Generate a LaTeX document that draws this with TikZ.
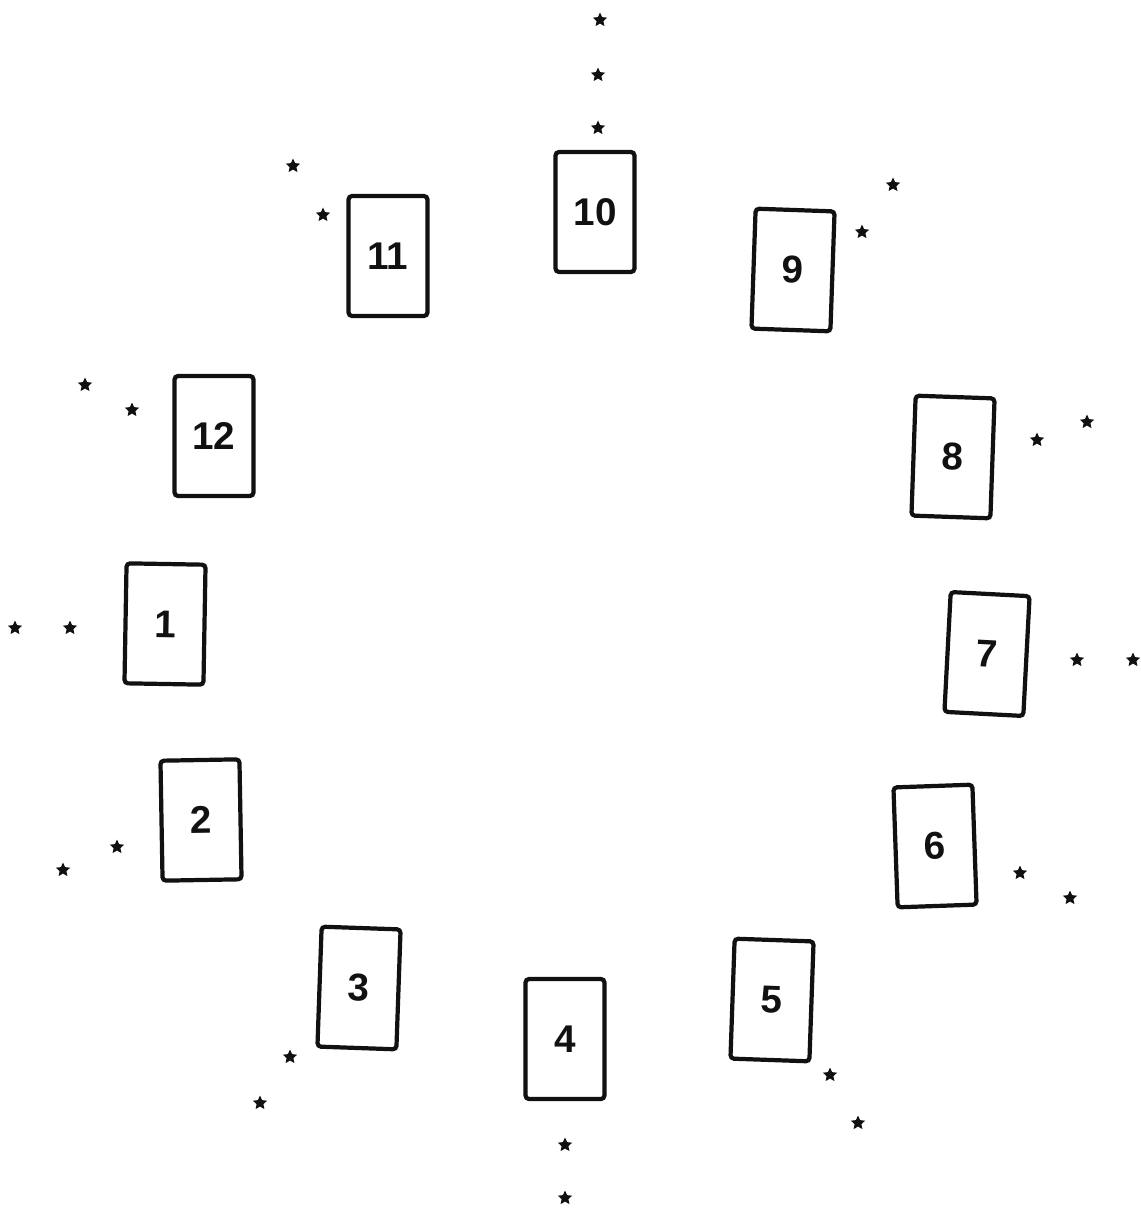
\documentclass[tikz,border=0pt]{standalone}
\usepackage{fontspec}
\setsansfont{Liberation Sans}
\usetikzlibrary{shapes.geometric}
\definecolor{Ink}{HTML}{111111}
\tikzset{
    card/.style={rectangle, rounded corners=2pt, draw=Ink, line width=2.4pt, minimum width=1.58cm, minimum height=2.4cm, inner sep=0pt, text=Ink, font=\sffamily\bfseries\fontsize{22}{22}\selectfont},
    starmark/.style={star, star points=5, star point ratio=2.1, fill=Ink, draw=none, minimum size=0.3cm, inner sep=0pt},
}
\begin{document}
\begin{tikzpicture}[x=0.02cm, y=-0.02cm]
    \useasboundingbox (0,0) rectangle (1140,1209);
    % Carte
    \foreach \n/\x/\y/\r in {1/165/624/-1, 2/201/820/1, 3/359/988/-2, 4/565/1039/0, 5/772/1000/-2, 6/935/846/2,
                             7/987/654/-3, 8/953/457/-2, 9/793/270/-2, 10/595/212/0, 11/388/256/0, 12/214/436/0}
        \node[card, rotate=\r] (card\n) at (\x,\y) {\n};
    % Stelle
    \foreach \x/\y [count=\i] in {600/20, 598/75, 598/128, 293/166, 323/215, 893/185, 862/232,
                                  85/385, 132/410, 1037/440, 1087/422, 15/628, 70/628, 1077/660, 1133/660,
                                  63/870, 117/847, 1020/873, 1070/898, 290/1057, 260/1103,
                                  830/1075, 858/1123, 565/1145, 565/1198}
        \node[starmark] (star\i) at (\x,\y) {};
\end{tikzpicture}
\end{document}
